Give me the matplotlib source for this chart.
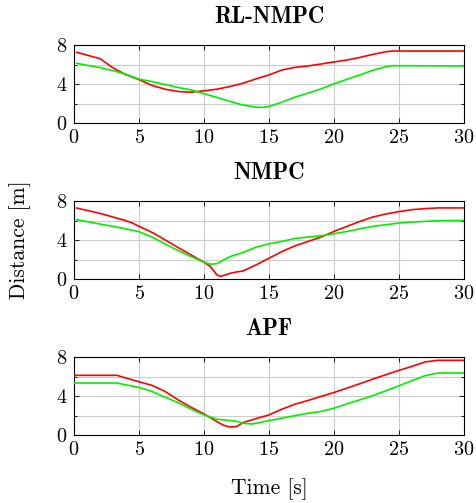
import matplotlib
matplotlib.use("Agg")
import matplotlib.pyplot as plt
from matplotlib.ticker import MultipleLocator

plt.rcParams['font.family'] = 'serif'
plt.rcParams['font.serif'] = ['cmr10']
plt.rcParams['mathtext.fontset'] = 'cm'
plt.rcParams['axes.formatter.use_mathtext'] = True

titles = ["RL-NMPC", "NMPC", "APF"]

t_rl_red = [0.2, 2, 3, 4, 5, 6, 7, 8, 9, 10, 11, 12, 13, 14, 15, 16, 17, 18, 19, 20, 21, 22, 23, 24, 24.5, 30]
d_rl_red = [7.25, 6.6, 5.65, 4.95, 4.45, 3.85, 3.47, 3.23, 3.16, 3.3, 3.47, 3.74, 4.08, 4.52, 4.93, 5.44, 5.71, 5.85, 6.05, 6.26, 6.46, 6.73, 7.04, 7.31, 7.38, 7.38]
t_rl_green = [0.2, 1, 2, 3, 4, 5, 6, 7, 8, 9, 10, 11, 12, 13, 14, 14.5, 15, 16, 17, 18, 19, 20, 21, 22, 23, 24, 24.5, 30]
d_rl_green = [6.12, 5.92, 5.68, 5.37, 5.0, 4.5, 4.25, 3.95, 3.64, 3.4, 3.0, 2.62, 2.21, 1.84, 1.63, 1.6, 1.7, 2.14, 2.65, 3.06, 3.5, 4.01, 4.49, 4.93, 5.41, 5.78, 5.88, 5.85]

t_nm_red = [0.2, 2, 4, 4.5, 5, 6, 7, 8, 9, 10, 10.5, 11, 11.3, 12, 12.5, 13, 14, 15, 16, 17, 18, 19, 20, 21, 22, 23, 24, 25, 26, 27, 28, 30]
d_nm_red = [7.28, 6.73, 5.98, 5.74, 5.4, 4.78, 4.02, 3.23, 2.47, 1.72, 1.27, 0.41, 0.27, 0.58, 0.72, 0.82, 1.44, 2.13, 2.82, 3.4, 3.85, 4.3, 4.88, 5.4, 5.91, 6.36, 6.67, 6.91, 7.11, 7.22, 7.29, 7.29]
t_nm_green = [0.2, 2, 4, 5, 6, 7, 8, 9, 10, 10.5, 11, 12, 13, 14, 15, 16, 17, 18, 19, 20, 21, 22, 23, 24, 25, 26, 27, 28, 30]
d_nm_green = [6.08, 5.64, 5.15, 4.85, 4.3, 3.61, 2.92, 2.3, 1.72, 1.51, 1.58, 2.3, 2.71, 3.26, 3.61, 3.85, 4.16, 4.3, 4.43, 4.64, 4.88, 5.15, 5.4, 5.57, 5.74, 5.84, 5.91, 5.98, 6.01]

t_apf_red = [0, 3.3, 4, 5, 6, 7, 8, 9, 10, 11, 11.5, 12, 12.5, 13, 14, 15, 16, 17, 18, 19, 20, 21, 22, 23, 24, 25, 26, 27, 28, 30]
d_apf_red = [6.12, 6.12, 5.84, 5.46, 5.09, 4.47, 3.61, 2.85, 2.16, 1.37, 1.0, 0.82, 0.86, 1.27, 1.68, 2.06, 2.65, 3.16, 3.54, 3.95, 4.36, 4.81, 5.26, 5.74, 6.19, 6.63, 7.04, 7.49, 7.66, 7.66]
t_apf_green = [0, 3.3, 5, 6, 7, 8, 9, 10, 11, 11.5, 12, 12.5, 13, 13.7, 14, 15, 16, 17, 18, 19, 20, 21, 22, 23, 24, 25, 26, 27, 28, 30]
d_apf_green = [5.33, 5.33, 4.88, 4.47, 3.88, 3.33, 2.65, 2.06, 1.62, 1.55, 1.48, 1.41, 1.2, 1.13, 1.2, 1.48, 1.72, 1.99, 2.23, 2.41, 2.75, 3.2, 3.61, 4.05, 4.54, 5.05, 5.57, 6.08, 6.36, 6.36]

series = [
    (t_rl_red, d_rl_red, t_rl_green, d_rl_green),
    (t_nm_red, d_nm_red, t_nm_green, d_nm_green),
    (t_apf_red, d_apf_red, t_apf_green, d_apf_green),
]

W, H = 476, 503
fig = plt.figure(figsize=(W / 100, H / 100), dpi=100)
tops = [45, 201, 357]
ax_h = 78
left, width = 74, 390
fs_tick = 14.5
fs_lab = 15.5
fs_title = 16.5
for i, (title, (tr, dr, tg, dg)) in enumerate(zip(titles, series)):
    ax = fig.add_axes([left / W, 1 - (tops[i] + ax_h) / H, width / W, ax_h / H])
    ax.plot(tr, dr, color='#ff0000', lw=1.2, zorder=3)
    ax.plot(tg, dg, color='#00f000', lw=1.2, zorder=3)
    ax.set_xlim(0, 30)
    ax.set_ylim(0, 8)
    ax.xaxis.set_major_locator(MultipleLocator(5))
    ax.yaxis.set_major_locator(MultipleLocator(4))
    ax.yaxis.set_minor_locator(MultipleLocator(2))
    ax.grid(True, which='both', color='#cccccc', lw=0.8)
    ax.set_axisbelow(True)
    ax.tick_params(which='both', direction='in', top=True, right=True, labelsize=fs_tick, length=3.5, width=0.6, pad=4.5)
    ax.tick_params(which='minor', length=2.5)
    for s in ax.spines.values():
        s.set_linewidth(0.8)
    ax.set_title(title, fontsize=fs_title, family='cmb10', pad=16)
    if i == 1:
        ax.set_ylabel('Distance [m]', fontsize=fs_lab, labelpad=18)
    if i == 2:
        ax.set_xlabel('Time [s]', fontsize=fs_lab, labelpad=14)

fig.savefig('out.png', dpi=100)
